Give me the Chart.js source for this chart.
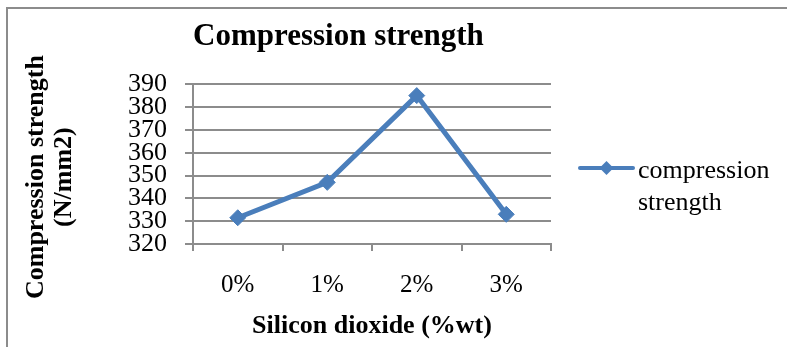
<!DOCTYPE html>
<html>
<head>
<meta charset="utf-8">
<title>Compression strength</title>
<script src="https://cdn.jsdelivr.net/npm/chart.js@4/dist/chart.umd.min.js"></script>
<style>
  html, body { margin: 0; padding: 0; background: #fff; overflow: hidden; width: 787px; height: 347px; }
  #frame { position: absolute; left: 6px; top: 7px; width: 900px; height: 500px; border: 2px solid #8c8c8c; }
  #chart { position: absolute; left: 0; top: 0; }
</style>
</head>
<body>
<div id="frame"></div>
<canvas id="chart" width="787" height="347"></canvas>
<script>
// Compression strength against silicon dioxide content
const categories = ['0%', '1%', '2%', '3%'];
const strengthValues = [331.5, 347, 385, 333];
const seriesName = 'compression strength';
const chartTitle = 'Compression strength';
const xAxisTitle = 'Silicon dioxide (%wt)';
// en spaces at the end nudge the rotated title a little towards the bottom
const yAxisTitle = ['Compression strength\u2002\u2002', '(N/mm2)\u2002\u2002'];
const yMin = 320, yMax = 390, yStep = 10;

const SERIES_BLUE = '#4a7ebb';
const GRID_GREY = '#8c8c8c';
const SERIF = "'Liberation Serif', 'Times New Roman', serif";

Chart.defaults.font.family = SERIF;
Chart.defaults.color = '#000';

// Legend on the right: line with a diamond, label wrapped over two lines
const sideLegend = {
  id: 'sideLegend',
  afterDraw(chart) {
    const { ctx, chartArea } = chart;
    const ds = chart.data.datasets[0];
    const words = ds.label.split(' ');
    const cy = (chartArea.top + chartArea.bottom) / 2 + 4;
    const x0 = chartArea.right + 29;
    const x1 = x0 + 53;
    const mx = (x0 + x1) / 2;
    ctx.save();
    ctx.strokeStyle = ds.borderColor;
    ctx.lineWidth = 4;
    ctx.lineCap = 'round';
    ctx.beginPath();
    ctx.moveTo(x0, cy);
    ctx.lineTo(x1, cy);
    ctx.stroke();
    const r = 7;
    ctx.fillStyle = ds.backgroundColor;
    ctx.beginPath();
    ctx.moveTo(mx, cy - r);
    ctx.lineTo(mx + r, cy);
    ctx.lineTo(mx, cy + r);
    ctx.lineTo(mx - r, cy);
    ctx.closePath();
    ctx.fill();
    ctx.fillStyle = '#000';
    ctx.font = '26px ' + SERIF;
    ctx.textAlign = 'left';
    ctx.textBaseline = 'middle';
    words.forEach((w, i) => ctx.fillText(w, x1 + 5, cy + 3 + i * 32));
    ctx.restore();
  }
};

new Chart(document.getElementById('chart'), {
  type: 'line',
  data: {
    labels: categories,
    datasets: [{
      label: seriesName,
      data: strengthValues,
      borderColor: SERIES_BLUE,
      backgroundColor: SERIES_BLUE,
      borderWidth: 5,
      pointStyle: 'rectRot',
      pointRadius: 8,
      pointBorderWidth: 1,
      pointBackgroundColor: SERIES_BLUE,
      pointBorderColor: SERIES_BLUE,
      tension: 0,
      fill: false
    }]
  },
  options: {
    responsive: false,
    animation: false,
    devicePixelRatio: 1,
    layout: { padding: { top: 0, right: 236, bottom: 0, left: 0 } },
    plugins: {
      legend: { display: false },
      tooltip: { enabled: false },
      title: {
        display: true,
        text: chartTitle,
        align: 'start',
        fullSize: false,
        color: '#000',
        font: { size: 31, weight: 'bold', lineHeight: 1.2 },
        padding: { top: 18, bottom: 29 }
      }
    },
    scales: {
      x: {
        offset: true,
        grid: { offset: true, drawOnChartArea: false, drawTicks: true, tickLength: 7, color: GRID_GREY, lineWidth: 2 },
        border: { display: true, color: GRID_GREY, width: 2 },
        ticks: { padding: 19, maxRotation: 0, color: '#000', font: { size: 25 } },
        title: {
          display: true,
          text: xAxisTitle,
          color: '#000',
          font: { size: 26, weight: 'bold', lineHeight: 1 },
          padding: { top: -6, bottom: 8 }
        }
      },
      y: {
        min: yMin,
        max: yMax,
        grid: { color: GRID_GREY, lineWidth: 2, drawTicks: true, tickLength: 8 },
        border: { display: true, color: GRID_GREY, width: 2 },
        ticks: { stepSize: yStep, autoSkip: false, padding: 18, color: '#000', font: { size: 26 } },
        title: {
          display: true,
          text: yAxisTitle,
          color: '#000',
          font: { size: 26, weight: 'bold', lineHeight: 28 / 26 },
          padding: { top: 22, bottom: 32 }
        }
      }
    }
  },
  plugins: [sideLegend]
});
</script>
</body>
</html>
